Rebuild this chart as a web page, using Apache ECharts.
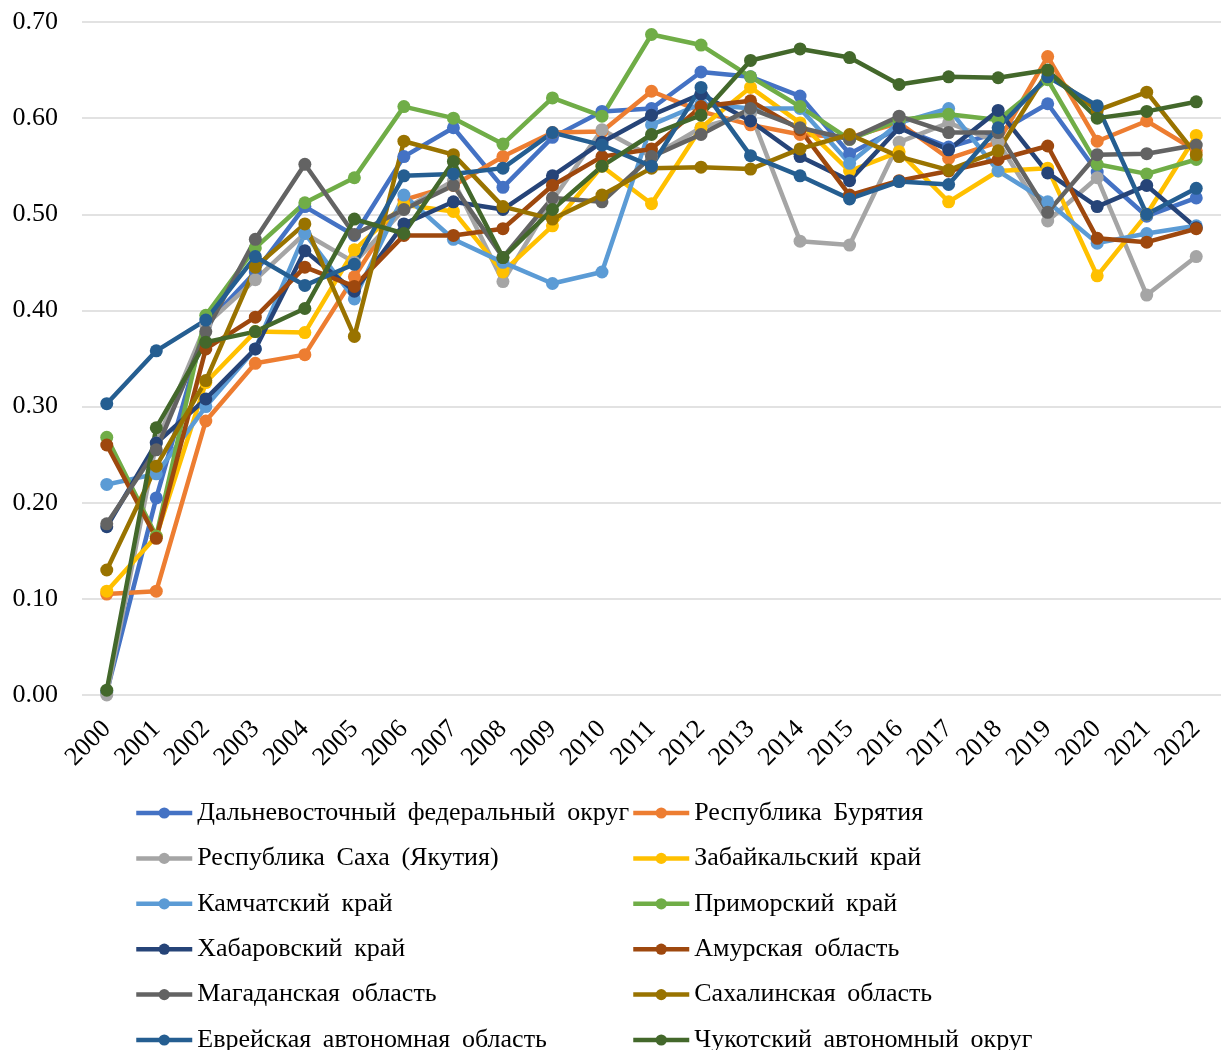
<!DOCTYPE html>
<html>
<head>
<meta charset="utf-8">
<script src="https://cdn.jsdelivr.net/npm/echarts@6/dist/echarts.min.js"></script>
<style>
  html, body { margin: 0; padding: 0; background: #fff; }
</style>
</head>
<body>
<div id="main" style="width:1221px;height:1050px;"></div>
<script type="text/javascript">
// годы
var years = ['2000','2001','2002','2003','2004','2005','2006','2007','2008','2009','2010','2011',
             '2012','2013','2014','2015','2016','2017','2018','2019','2020','2021','2022'];

// названия рядов
var names = [
  'Дальневосточный федеральный округ', 'Республика Бурятия',
  'Республика Саха (Якутия)', 'Забайкальский край',
  'Камчатский край', 'Приморский край',
  'Хабаровский край', 'Амурская область',
  'Магаданская область', 'Сахалинская область',
  'Еврейская автономная область', 'Чукотский автономный округ'
];

var colors = ['#4472C4','#ED7D31','#A5A5A5','#FFC000','#5B9BD5','#70AD47',
              '#264478','#9E480E','#636363','#997300','#255E91','#43682B'];

// значения
var dfo        = [0.003,0.205,0.385,0.440,0.508,0.478,0.560,0.590,0.528,0.580,0.607,0.610,0.648,0.643,0.623,0.563,0.590,0.570,0.585,0.615,0.544,0.498,0.517];
var buryatia   = [0.105,0.108,0.285,0.345,0.354,0.435,0.515,0.530,0.560,0.585,0.586,0.628,0.607,0.593,0.583,0.580,0.595,0.558,0.575,0.664,0.576,0.597,0.566];
var sakha      = [0.000,0.262,0.385,0.432,0.480,0.450,0.505,0.535,0.430,0.515,0.588,0.560,0.590,0.605,0.472,0.468,0.575,0.595,0.575,0.493,0.538,0.416,0.456];
var zabaikal   = [0.108,0.165,0.325,0.378,0.377,0.463,0.510,0.503,0.440,0.488,0.550,0.511,0.590,0.632,0.595,0.545,0.565,0.513,0.545,0.548,0.436,0.500,0.582];
var kamchatka  = [0.219,0.230,0.300,0.360,0.480,0.412,0.520,0.474,0.450,0.428,0.440,0.593,0.615,0.610,0.610,0.553,0.595,0.610,0.545,0.513,0.470,0.480,0.488];
var primorye   = [0.268,0.165,0.395,0.465,0.512,0.538,0.612,0.600,0.573,0.621,0.602,0.687,0.676,0.643,0.612,0.578,0.598,0.604,0.598,0.640,0.552,0.542,0.557];
var khabarovsk = [0.175,0.262,0.308,0.360,0.462,0.420,0.490,0.513,0.505,0.540,0.575,0.603,0.625,0.597,0.560,0.535,0.590,0.567,0.608,0.543,0.508,0.530,0.486];
var amur       = [0.260,0.163,0.360,0.393,0.445,0.425,0.478,0.478,0.485,0.530,0.560,0.568,0.612,0.618,0.588,0.520,0.535,0.545,0.557,0.571,0.475,0.471,0.485];
var magadan    = [0.178,0.255,0.378,0.474,0.552,0.479,0.505,0.530,0.455,0.517,0.513,0.560,0.583,0.610,0.590,0.578,0.602,0.585,0.585,0.502,0.562,0.563,0.572];
var sakhalin   = [0.130,0.238,0.327,0.445,0.490,0.373,0.576,0.562,0.508,0.495,0.520,0.548,0.549,0.547,0.568,0.583,0.560,0.546,0.566,0.648,0.608,0.627,0.562];
var evrei      = [0.303,0.358,0.390,0.456,0.426,0.448,0.540,0.542,0.548,0.585,0.572,0.550,0.632,0.561,0.540,0.516,0.534,0.531,0.590,0.643,0.613,0.500,0.527];
var chukotka   = [0.005,0.278,0.367,0.378,0.402,0.495,0.480,0.555,0.455,0.505,0.550,0.583,0.603,0.660,0.672,0.663,0.635,0.643,0.642,0.650,0.600,0.607,0.617];

var values = [dfo, buryatia, sakha, zabaikal, kamchatka, primorye,
              khabarovsk, amur, magadan, sakhalin, evrei, chukotka];

var font = 'Liberation Serif, Times New Roman, serif';

var series = [];
for (var i = 0; i < names.length; i++) {
  series.push({
    name: names[i],
    type: 'line',
    data: values[i],
    symbol: 'circle',
    symbolSize: 13,
    lineStyle: { width: 4.5, color: colors[i] },
    itemStyle: { color: colors[i] },
    emphasis: { disabled: true },
    animation: false
  });
}

// легенда: две колонки, по одному элементу на компонент
var legends = [];
for (var j = 0; j < names.length; j++) {
  legends.push({
    data: [names[j]],
    left: j % 2 === 0 ? 134 : 631,
    top: 800 + Math.floor(j / 2) * 45.4,
    padding: 0,
    itemWidth: 56,
    itemHeight: 14,
    selectedMode: false,
    lineStyle: { width: 4.5 },
    textStyle: { fontFamily: font, fontSize: 26, color: '#000' },
    formatter: function (n) { return n.replace(/ /g, ' \u2009'); }
  });
}

var myChart = echarts.init(document.getElementById('main'));
var option = {
  color: colors,
  animation: false,
  grid: {
    left: 82,
    right: 0,
    top: 22,
    height: 673
  },
  legend: legends,
  xAxis: {
    type: 'category',
    data: years,
    boundaryGap: true,
    axisLine: { show: false },
    axisTick: { show: false },
    axisLabel: {
      rotate: 45,
      margin: 30,
      interval: 0,
      fontFamily: font,
      fontSize: 26,
      color: '#000'
    }
  },
  yAxis: {
    type: 'value',
    min: 0,
    max: 0.7,
    interval: 0.1,
    axisLine: { show: false },
    axisTick: { show: false },
    splitLine: { lineStyle: { color: '#d9d9d9', width: 1.5 } },
    axisLabel: {
      margin: 24,
      fontFamily: font,
      fontSize: 26,
      color: '#000',
      formatter: function (v) { return v.toFixed(2); }
    }
  },
  series: series
};
myChart.setOption(option);
</script>
</body>
</html>
